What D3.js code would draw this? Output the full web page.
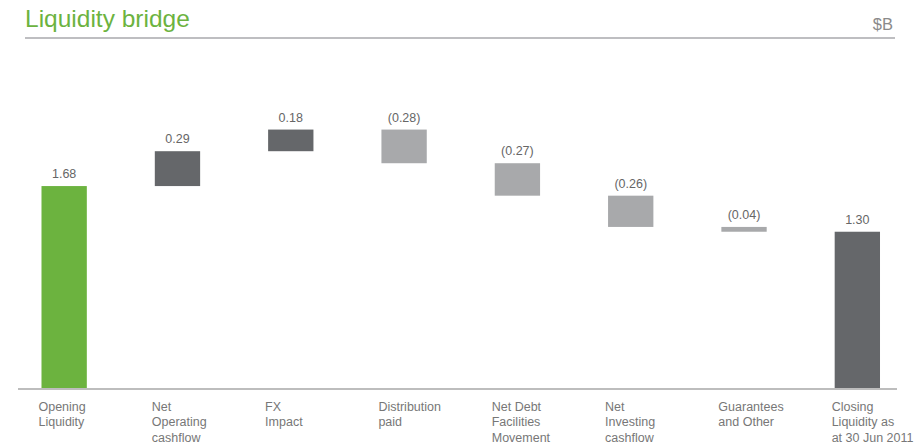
<!DOCTYPE html>
<html>
<head>
<meta charset="utf-8">
<script src="https://cdn.jsdelivr.net/npm/d3@7"></script>
<style>
  html, body { margin: 0; padding: 0; background: #fff; }
  svg { display: block; font-family: "Liberation Sans", Arial, Helvetica, sans-serif; }
</style>
</head>
<body>
<svg id="chart" width="920" height="446"></svg>
<script>
// ---- data ----
const categories = [
  ["Opening", "Liquidity"],
  ["Net", "Operating", "cashflow"],
  ["FX", "Impact"],
  ["Distribution", "paid"],
  ["Net Debt", "Facilities", "Movement"],
  ["Net", "Investing", "cashflow"],
  ["Guarantees", "and Other"],
  ["Closing", "Liquidity as", "at 30 Jun 2011"]
];
const values = [1.68, 0.29, 0.18, -0.28, -0.27, -0.26, -0.04, 1.30];
const kinds = ["total", "delta", "delta", "delta", "delta", "delta", "delta", "total"];
const valueLabels = ["1.68", "0.29", "0.18", "(0.28)", "(0.27)", "(0.26)", "(0.04)", "1.30"];
const title = "Liquidity bridge";
const unit = "$B";

// ---- styles ----
const colors = { opening: "#6cb33f", up: "#65676a", down: "#a8a9ab", closing: "#65676a" };

const svg = d3.select("#chart");

// compute waterfall
let running = 0;
const bars = values.map((v, i) => {
  let y0, y1;
  if (kinds[i] === "total") { y0 = 0; y1 = v; running = v; }
  else { y0 = running; y1 = running + v; running = y1; }
  let color;
  if (i === 0) color = colors.opening;
  else if (i === values.length - 1) color = colors.closing;
  else color = v >= 0 ? colors.up : colors.down;
  return { i, v, lo: Math.min(y0, y1), hi: Math.max(y0, y1), color, label: valueLabels[i], cat: categories[i] };
});

const x = d3.scaleBand()
  .domain(d3.range(values.length))
  .range([7.5, 914])
  .paddingInner(0.6)
  .paddingOuter(0.3);

const y = d3.scaleLinear().domain([0, 2.5]).range([388, 87.5]);

// title
svg.append("text")
  .attr("x", 25).attr("y", 27)
  .attr("fill", "#6cb33f")
  .attr("font-size", 24.5)
  .text(title);

svg.append("text")
  .attr("x", 893).attr("y", 30)
  .attr("text-anchor", "end")
  .attr("fill", "#8a8a8a")
  .attr("font-size", 16.5)
  .text(unit);

svg.append("line")
  .attr("x1", 25).attr("x2", 895)
  .attr("y1", 38).attr("y2", 38)
  .attr("stroke", "#a9a9ad").attr("stroke-width", 1.5);

// bars
svg.append("g").selectAll("rect")
  .data(bars).join("rect")
  .attr("x", d => x(d.i))
  .attr("width", x.bandwidth())
  .attr("y", d => y(d.hi))
  .attr("height", d => y(d.lo) - y(d.hi))
  .attr("fill", d => d.color);

// value labels
svg.append("g").selectAll("text")
  .data(bars).join("text")
  .attr("x", d => x(d.i) + x.bandwidth() / 2)
  .attr("y", d => y(d.hi) - 8)
  .attr("text-anchor", "middle")
  .attr("fill", "#666")
  .attr("font-size", 12.5)
  .text(d => d.label);

// axis baseline
svg.append("line")
  .attr("x1", 18).attr("x2", 897)
  .attr("y1", y(0) + 1).attr("y2", y(0) + 1)
  .attr("stroke", "#bdbdbd").attr("stroke-width", 2);

// category labels
const catG = svg.append("g").selectAll("text")
  .data(bars).join("text")
  .attr("x", d => x(d.i) - 3)
  .attr("y", 410.5)
  .attr("fill", "#777")
  .attr("font-size", 12.5);
catG.selectAll("tspan")
  .data(d => d.cat.map(t => ({ t, x: x(d.i) - 3 })))
  .join("tspan")
  .attr("x", t => t.x)
  .attr("dy", (t, j) => j === 0 ? 0 : 15.8)
  .text(t => t.t);
</script>
</body>
</html>
